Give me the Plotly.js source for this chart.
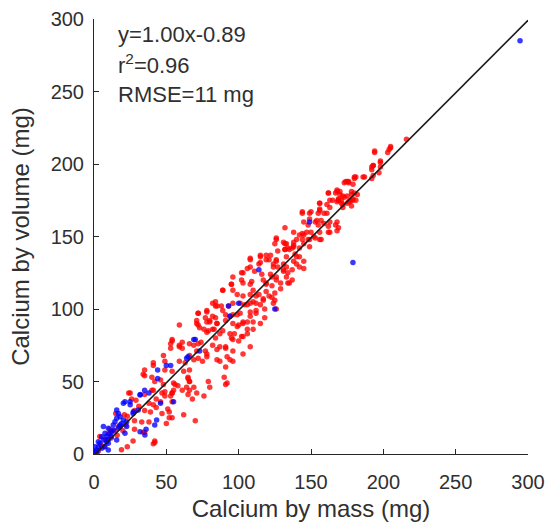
<!DOCTYPE html>
<html>
<head>
<meta charset="utf-8">
<script src="https://cdn.plot.ly/plotly-3.0.1.min.js"></script>
<style>html,body{margin:0;padding:0;background:#fff;}#chart{width:551px;height:529px;}</style>
</head>
<body>
<div id="chart"></div>
<script>
// Red group: [mass, volume] pairs
const redPairs = [
[216,217],[194,209],[204,210],[205,212],[198,201],[193,199],[192,198],[198,198],[193,192],[192,190],
[197,194],[187,191],[181,191],[180,190],[174,188],[176,187],[168,181],[162,180],[170,179],[172,178],
[178,179],[180,180],[181,175],[177,175],[175,173],[169,175],[165,175],[156,173],[156,169],[161,172],
[163,170],[172,170],[159,166],[144,166],[149,166],[155,166],[145,160],[149,162],[154,161],[159,159],
[163,160],[167,158],[168,154],[162,153],[156,148],[152,150],[147,153],[144,152],[149,148],[145,145],
[140,148],[138,143],[135,141],[133,145],[132,141],[126,148],[125,145],[139,138],[142,136],[140,131],
[145,128],[137,127],[131,127],[127,129],[124,131],[119,137],[121,134],[115,136],[114,131],[108,134],
[106,128],[111,126],[116,124],[122,124],[126,122],[135,118],[133,122],[129,118],[123,116],[119,117],
[117,120],[109,119],[103,125],[102,120],[95,117],[96,113],[89,113],[99,110],[103,109],[108,110],
[112,109],[117,106],[121,109],[125,111],[125,106],[124,104],[126,100],[112,104],[108,104],[104,103],
[101,104],[96,104],[93,102],[89,99],[91,96],[94,95],[99,96],[96,90],[100,89],[103,90],
[106,91],[110,91],[115,90],[108,98],[112,99],[82,104],[84,102],[78,98],[72,97],[77,94],
[80,91],[85,90],[71,92],[72,89],[79,85],[83,86],[87,83],[89,85],[94,83],[96,79],
[100,78],[103,81],[106,83],[108,74],[103,69],[59,89],[54,78],[53,76],[59,75],[61,73],
[66,76],[72,76],[71,71],[77,71],[78,67],[75,64],[82,75],[84,80],[87,74],[91,73],
[59,64],[63,63],[69,65],[66,58],[65,53],[66,50],[64,46],[66,44],[71,42],[68,38],
[76,40],[80,46],[85,65],[91,60],[90,53],[91,48],[92,67],[96,64],[58,47],[55,44],
[53,40],[51,31],[54,25],[62,27],[70,23],[49,40],[47,42],[43,38],[41,34],[38,35],
[35,58],[41,61],[46,51],[49,58],[41,7],[42,8],[35,15],[28,23],[23,5],[19,3],
[20,16],[23,26],[25,42],[26,38],[29,37],[31,33],[28,30],[33,22],[40,44],[35,41],
[35,30],[39,29],[43,32],[34,55],[40,53],[42,50],[49,43],[54,42],[56,48],[46,36],
[54,36],[47,28],[52,29],[52,25],[38,22],[28,17],[34,15],[27,9],[42,9],[11,17],
[15,28],[21,27],[24,42],[50,21],[0,1],[4,12],[5,6],[8,10],[12,11],[14,16],
[17,19],[10,14],[7,5],[3,2],[16,13],[22,20],
[132,145],[134,142],[138,144],[142,151],[126,133],[133,129],[131,126],[134,125],[123,122],[126,120],
[119,118],[115,132],[115,137],[108,135],[108,129],[102,125],[96,122],[95,117],[89,113],[103,118],
[108,117],[110,113],[119,112],[123,108],[117,107],[114,110],[129,114],[134,118],[137,120],[110,105],
[106,103],[115,103],[118,100],[101,97],[96,96],[91,92],[84,94],[78,99],[84,105],[88,102],
[108,95],[112,97],[118,94],[103,91],[99,88],[106,86],[110,86],[97,83],[78,91],[76,86],
[82,86],[85,90],[95,80],[102,81],
[186,191],[180,191],[176,188],[170,181],[173,177],[167,180],[162,180],[156,173],[163,175],[169,175],
[176,174],[179,175],[182,179],[171,173],[144,167],[150,167],[156,168],[161,166],[157,161],[153,160],
[148,158],[155,158],[162,157],[168,160],[169,156],[163,153],[156,153],[150,153],[145,151],[138,153],
[132,156],[126,149],[131,146],[138,146],[144,148],[148,148],[153,149],[157,148],[149,143],[142,142],
[137,142],[132,141],[127,140],[122,137],[119,134],[126,134],[133,136],[140,136],[145,133],[138,133],
[131,131],[142,129],[124,129],
[205,211],[203,208],[194,208],[198,202],[193,199],[192,196],[179,186],[175,188],[173,187],[168,182],
[178,181],[175,178],[169,176],[171,175],[179,176],[177,174],[168,174],[172,172],[178,171],
[72,97],[71,90],[73,87],[80,92],[78,84],[85,102],[82,95],[54,79],[61,77],[59,74],
[69,75],[74,77],[53,73],[48,68],[49,64],[41,63],[66,68],[72,66],[78,69],[85,72],
[91,74],[96,71],[87,64],[94,65],[35,54],[54,57],[62,57],[65,52],[66,50],[55,49],
[61,44],[69,46],[79,50],[92,49],[48,48],[54,42],[65,41],[41,44]
];
// Blue group: [mass, volume] pairs
const bluePairs = [
[294.5,285],[179,132],[149,160],[114,127],[93,102],[94,95],[100,104],[125,100],[70,79],[69,79],
[73,71],[64,66],[65,67],[53,61],[50,61],[44,58],[44,52],[38,42],[35,44],[32,41],
[46,35],[55,36],[42,20],[36,17],[27,28],[25,34],[15.7,30.3],[16.8,28],[6.5,18.9],[20.3,23.4],
[19.1,21.1],[11,14.3],[13.4,16.6],[16.8,17.7],[18,20],[14.5,22.3],[12.2,15.4],[8.8,12],[6.5,9.7],[4.1,7.4],
[3,5],[1.8,2.8],[0.7,1.6],[9.9,7.4],[7.6,5],[5.3,3.9],[22.6,18.9],[21.4,14.3],[15.7,9.7],[9.9,2.8],
[31.8,40.7],[24.9,36],[21.4,36],[20.3,35],[30.6,30.3],[18,25.7],[15.7,24.6],[13.3,20],[9.9,17.7],[7.6,14.3],
[5.3,11.9],[3,8.5],[0.7,5],[43.3,23.4],[35.2,13.1],[31.8,15.4],[27.2,29.2],[22.6,22.3],[18,18.8],[8.8,8.5],
[10,10],[12,12],[2,1]
];
const redMass = redPairs.map(p => p[0]);
const redVolume = redPairs.map(p => p[1]);
const blueMass = bluePairs.map(p => p[0]);
const blueVolume = bluePairs.map(p => p[1]);

// Fit statistics
const fitSlope = 1.00;
const fitIntercept = -0.89;
const fitR2 = "0.96";
const fitRMSE = "11 mg";
const fitXRange = [0, 300];
const fitY = fitXRange.map(x => fitSlope * x + fitIntercept);

const tickValues = [0, 50, 100, 150, 200, 250, 300];
const tickLabels = ["0", "50", "100", "150", "200", "250", "300"];

const FONT = "Liberation Sans, Arial, Helvetica, sans-serif";
const TXT = "#303030";

const traces = [
  {x: redMass, y: redVolume, type: "scatter", mode: "markers",
   marker: {color: "rgba(255,0,0,0.78)", size: 5.5, line: {width: 0}}, hoverinfo: "skip"},
  {x: blueMass, y: blueVolume, type: "scatter", mode: "markers",
   marker: {color: "rgba(0,0,255,0.78)", size: 5.5, line: {width: 0}}, hoverinfo: "skip"},
  {x: fitXRange, y: fitY, type: "scatter", mode: "lines",
   line: {color: "#1a1a1a", width: 1.6}, hoverinfo: "skip"}
];

const axisBase = {
  range: [0, 300], autorange: false, showgrid: false, zeroline: false,
  showline: true, linecolor: "#262626", linewidth: 1, mirror: false,
  ticks: "inside", ticklen: 5, tickwidth: 1, tickcolor: "#262626",
  tickmode: "array", tickvals: tickValues, ticktext: tickLabels,
  tickfont: {family: FONT, size: 20, color: TXT}, automargin: false
};

const layout = {
  width: 551, height: 529,
  margin: {l: 94, r: 23, t: 19, b: 75, pad: 0},
  paper_bgcolor: "#ffffff", plot_bgcolor: "#ffffff",
  showlegend: false,
  xaxis: Object.assign({}, axisBase, {
    ticklabelstandoff: 10,
    title: {text: "Calcium by mass (mg)", font: {family: FONT, size: 24, color: TXT}, standoff: 8}
  }),
  yaxis: Object.assign({}, axisBase, {
    ticklabelstandoff: 5,
    title: {text: "Calcium by volume (mg)", font: {family: FONT, size: 24, color: TXT}, standoff: 14}
  }),
  annotations: [
    {xref: "paper", yref: "paper", x: 0.05, y: 0.9655, xanchor: "left", yanchor: "middle", showarrow: false,
     text: "y=" + fitSlope.toFixed(2) + "x" + fitIntercept.toFixed(2), font: {family: FONT, size: 22, color: TXT}},
    {xref: "paper", yref: "paper", x: 0.05, y: 0.8966, xanchor: "left", yanchor: "middle", showarrow: false,
     text: "r<sup>2</sup>=" + fitR2, font: {family: FONT, size: 22, color: TXT}},
    {xref: "paper", yref: "paper", x: 0.05, y: 0.8264, xanchor: "left", yanchor: "middle", showarrow: false,
     text: "RMSE=" + fitRMSE, font: {family: FONT, size: 22, color: TXT}}
  ]
};

Plotly.newPlot("chart", traces, layout, {displayModeBar: false, staticPlot: true});
</script>
</body>
</html>
